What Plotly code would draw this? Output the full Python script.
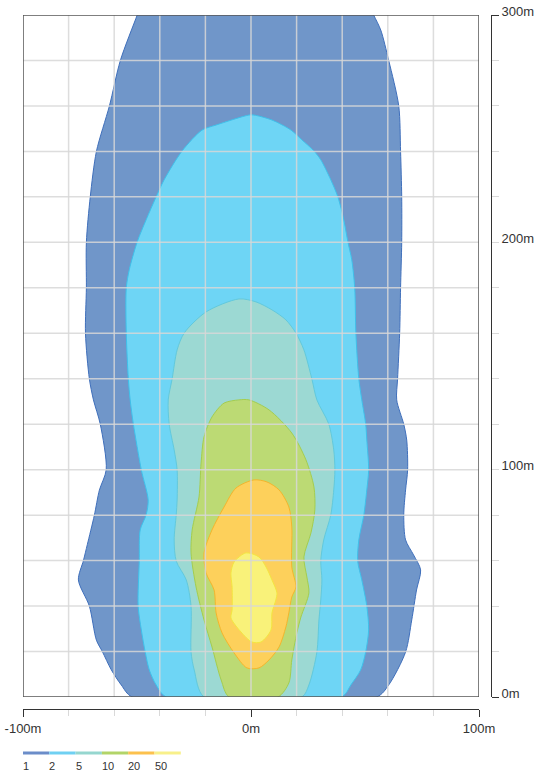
import plotly.graph_objects as go

# ---------------- data (metres) ----------------
levels = [1, 2, 5, 10, 20, 50]
level_labels = ["1", "2", "5", "10", "20", "50"]
fill_colors = ["#7096c9", "#6ed5f5", "#9cd9d3", "#bcda74", "#fdd05b", "#f9f27a"]
edge_colors = ["#3f6fbb", "#3fc0ea", "#62c9dc", "#a4cd4e", "#f4b52c", "#f4e540"]
legend_colors = ["#6b8dc9", "#6fd0f2", "#95d6cf", "#b2d468", "#fcc14d", "#f8f08a"]

x_tick_vals = [-100, 0, 100]
x_tick_text = ["-100m", "0m", "100m"]
y_tick_vals = [0, 100, 200, 300]
y_tick_text = ["0m", "100m", "200m", "300m"]
y_end_ticks = [0, 300]
grid_x = [-80, -60, -40, -20, 0, 20, 40, 60, 80]
grid_y = [20, 40, 60, 80, 100, 120, 140, 160, 180, 200, 220, 240, 260, 280]

lvl1_x = [-47.7, -49.9, -57.3, -62.1, -67.8, -70.5, -72.2, -72.2, -72.6, -70.9, -69.1,
          -66.1, -63.5, -66.5, -68.7, -71.8, -73.5, -75.7, -70.9, -67.8, -65.2, -61.3,
          -56.9, -52.1,
          55.1, 60.4, 67.8, 70.5, 72.6, 74.4, 71.3, 67.8, 67.0, 67.8, 68.7, 68.3, 67.0,
          63.9, 64.3, 65.2, 65.6, 66.1, 66.1, 65.6, 64.8, 60.4, 56.9, 53.8, 51.0]
lvl1_y = [306, 300, 280, 260, 240, 220, 200, 180, 160, 140, 130.7,
          120, 100, 91, 80, 67, 60, 51.5, 40, 25, 20, 12,
          5.3, 0,
          0, 5.3, 19.8, 33.9, 47.1, 55.9, 62.5, 69.1, 80.1, 91.1, 100, 113, 120,
          130.7, 140, 160, 180, 200, 220, 240, 260, 280, 293.4, 300, 306]

lvl2_x = [-0.9, -15.3, -21.4, -30.2, -38.1, -41.6, -46.0, -49.9, -53.4, -54.7, -54.7,
          -53.8, -53.0, -51.6, -48.1, -45.1, -46.0, -48.6, -49.0, -49.5, -48.1, -46.4,
          -44.6, -41.6, -37.2,
          39.8, 43.8, 48.1, 50.3, 51.6, 50.8, 48.6, 46.8, 47.3, 49.5, 50.8, 51.6, 50.8,
          50.3, 48.6, 47.3, 46.0, 45.5, 44.2, 42.5, 40.7, 38.1, 35.0, 30.6, 27.6, 22.3,
          17.5, 9.2, 1.3]
lvl2_y = [256.0, 251.6, 249.4, 240.2, 227.5, 220.0, 209.9, 200.2, 187.9, 179.9, 160.1,
          139.9, 130.7, 120.1, 99.9, 86.7, 80.1, 73.5, 59.8, 40.0, 29.5, 19.8,
          11.9, 5.3, 0,
          0, 5.3, 11.9, 19.8, 29.5, 40.0, 51.5, 59.8, 69.1, 80.1, 91.1, 99.9, 113.1,
          120.1, 130.7, 139.9, 160.1, 179.9, 192.3, 200.2, 209.9, 220.0, 227.5, 236.3,
          240.2, 245.1, 249.4, 253.8, 256.0]

lvl5_x = [-5.3, -19.7, -29.3, -32.4, -34.6, -36.3, -35.9, -33.7, -32.4, -32.4, -32.8,
          -33.7, -32.8, -28.4, -26.3, -26.3, -24.9, -20.6,
          22.3, 25.4, 28.9, 29.8, 30.6, 31.1, 30.6, 31.9, 35.0, 36.3, 36.8, 36.3, 34.1,
          28.9, 26.7, 23.2, 19.7, 15.3, 9.2, 2.2]
lvl5_y = [175.1, 169.4, 160.1, 152.7, 139.9, 130.7, 120.1, 108.7, 99.9, 86.7, 80.1,
          69.1, 59.8, 51.5, 40.0, 19.8, 11.9, 0,
          0, 5.3, 19.8, 33.9, 42.7, 51.5, 59.8, 69.1, 80.1, 91.1, 99.9, 108.7, 120.1,
          130.7, 139.9, 152.7, 160.1, 165.9, 170.3, 173.8]

lvl10_x = [-5.3, -11.8, -17.1, -20.6, -21.9, -22.8, -25.8, -26.3, -24.1, -20.6, -17.1,
           -13.1, -9.6,
           11.8, 16.6, 17.9, 20.1, 21.9, 25.4, 24.5, 23.2, 26.3, 28.0, 27.6, 24.1, 17.9,
           7.9, -0.9]
lvl10_y = [130.7, 129.3, 123.2, 114.4, 102.9, 88.0, 73.5, 63.4, 48.4, 33.9, 22.0,
           7.5, 0,
           0, 6.2, 16.3, 28.2, 35.2, 45.8, 52.8, 61.6, 72.2, 82.3, 92.4, 104.3, 116.1,
           126.3, 130.7]

lvl20_x = [1.3, -6.6, -11.8, -17.1, -20.6, -19.7, -16.2, -15.3, -12.7, -7.4, -1.8,
           3.5, 7.9, 12.3, 15.3, 16.6, 17.9, 19.7, 17.9, 17.9, 16.6, 12.3, 7.0]
lvl20_y = [95.5, 91.9, 83.6, 73.5, 63.4, 54.6, 47.1, 37.0, 28.2, 19.4, 12.8,
           12.8, 16.3, 22.0, 30.8, 37.0, 44.0, 48.4, 57.2, 74.8, 83.6, 91.1, 94.6]

lvl50_x = [-2.2, -7.4, -8.8, -8.3, -8.3, -8.8, -4.4, 0.4, 4.4, 8.8, 9.2, 10.9, 11.4,
           9.2, 6.6, 3.5]
lvl50_y = [63.4, 59.4, 54.6, 48.4, 38.3, 34.8, 28.6, 24.2, 24.2, 29.5, 37.0, 42.7, 45.8,
           51.5, 57.2, 61.6]

outlines = [(lvl1_x, lvl1_y), (lvl2_x, lvl2_y), (lvl5_x, lvl5_y),
            (lvl10_x, lvl10_y), (lvl20_x, lvl20_y), (lvl50_x, lvl50_y)]

# ---------------- figure ----------------
OFF = 0                      # page body margin removed by post_script below
W, H = 544 - OFF, 774 - OFF
ML, MT = 23 - OFF, 15 - OFF  # plot frame top-left on screen: (23, 15)
RIGHT_AX, BOTTOM_AX = 491 - OFF, 709 - OFF
MR, MB = W - RIGHT_AX, H - BOTTOM_AX
PW, PH = W - ML - MR, H - MT - MB
font_family = "Liberation Sans, Arial, Helvetica, sans-serif"
txt = "#333333"
light = "#d9d9d9"
grid_col = "rgba(215,215,215,0.85)"


def px_to_paper_y(screen_y):
    return (MT + PH - (screen_y - OFF)) / PH


fig = go.Figure()
for (xs, ys), fc, ec, lv in zip(outlines, fill_colors, edge_colors, levels):
    fig.add_trace(go.Scatter(
        x=xs + [xs[0]], y=ys + [ys[0]], mode="lines", fill="toself",
        fillcolor=fc, line=dict(color=ec, width=1, shape="spline", smoothing=0.8),
        name=str(lv), hoverinfo="skip", showlegend=False))

# helper traces to register the detached axes
fig.add_trace(go.Scatter(x=[None], y=[None], xaxis="x2", yaxis="y2",
                         showlegend=False, hoverinfo="skip"))
fig.add_trace(go.Scatter(x=[None], y=[None], xaxis="x2", yaxis="y3",
                         showlegend=False, hoverinfo="skip"))

shapes = []
for gx in grid_x:
    shapes.append(dict(type="line", xref="x", yref="y", x0=gx, x1=gx, y0=0, y1=300,
                       line=dict(color=grid_col, width=1.5), layer="above"))
for gy in grid_y:
    shapes.append(dict(type="line", xref="x", yref="y", x0=-100, x1=100, y0=gy, y1=gy,
                       line=dict(color=grid_col, width=1.5), layer="above"))
shapes.append(dict(type="rect", xref="x", yref="y", x0=-100, x1=100, y0=0, y1=300,
                   line=dict(color="#555555", width=1.5), layer="above"))

# legend colour bar
seg_w = 26.3 / PW
leg_y = px_to_paper_y(753)
lab_y = px_to_paper_y(766)
annotations = []
for i, (c, lab) in enumerate(zip(legend_colors, level_labels)):
    shapes.append(dict(type="line", xref="paper", yref="paper",
                       x0=i * seg_w, x1=(i + 1) * seg_w, y0=leg_y, y1=leg_y,
                       line=dict(color=c, width=3)))
    annotations.append(dict(text=lab, xref="paper", yref="paper", x=i * seg_w - 2 / PW,
                            y=lab_y, xanchor="left", yanchor="middle", showarrow=False,
                            font=dict(size=11, color=txt, family=font_family)))

x_dom = [0, (479 - OFF - ML) / PW]
y_dom = [px_to_paper_y(697), 1]

fig.update_layout(
    template="none",
    width=W, height=H, margin=dict(l=ML, r=MR, t=MT, b=MB, pad=0, autoexpand=False),
    paper_bgcolor="white", plot_bgcolor="white",
    font=dict(family=font_family, size=13, color=txt),
    hovermode=False, showlegend=False,
    shapes=shapes, annotations=annotations,
    xaxis=dict(domain=x_dom, range=[-100, 100], showgrid=False, zeroline=False,
               showticklabels=False, ticks="", showline=False, fixedrange=True,
               automargin=False),
    yaxis=dict(domain=y_dom, range=[0, 300], showgrid=False, zeroline=False,
               showticklabels=False, ticks="", showline=False, fixedrange=True,
               automargin=False),
    xaxis2=dict(overlaying="x", anchor="free", position=0, range=[-100, 100],
                showgrid=False, zeroline=False, showline=True, linecolor="#333333",
                linewidth=1, ticks="outside", ticklen=7, tickcolor="#333333",
                tickwidth=1, tickvals=x_tick_vals, ticktext=x_tick_text,
                tickfont=dict(size=13, color=txt), automargin=False,
                ticklabeloverflow="allow",
                minor=dict(dtick=20, tick0=0, ticks="outside", ticklen=6,
                           tickcolor=light, tickwidth=1, showgrid=False),
                fixedrange=True),
    yaxis2=dict(overlaying="y", anchor="free", position=1, side="right",
                range=[0, 300], showgrid=False, zeroline=False, showline=True,
                linecolor="#333333", linewidth=1, ticks="outside", ticklen=7,
                tickcolor=light, tickwidth=1, tickvals=y_tick_vals,
                ticktext=y_tick_text, tickfont=dict(size=13, color=txt),
                ticklabelshift=-4, automargin=False, ticklabeloverflow="allow",
                minor=dict(dtick=20, tick0=0, ticks="outside", ticklen=7,
                           tickcolor=light, tickwidth=1, showgrid=False),
                fixedrange=True),
    yaxis3=dict(overlaying="y", anchor="free", position=1, side="right",
                range=[0, 300], showgrid=False, zeroline=False, showline=False,
                ticks="outside", ticklen=7, tickcolor="#333333", tickwidth=1,
                tickvals=y_end_ticks, showticklabels=False, fixedrange=True,
                automargin=False),
)

fig.write_html("out.html",
               config={"displayModeBar": False, "staticPlot": True},
               post_script="document.body.style.margin='0';"
                           "document.body.style.overflow='hidden';")
